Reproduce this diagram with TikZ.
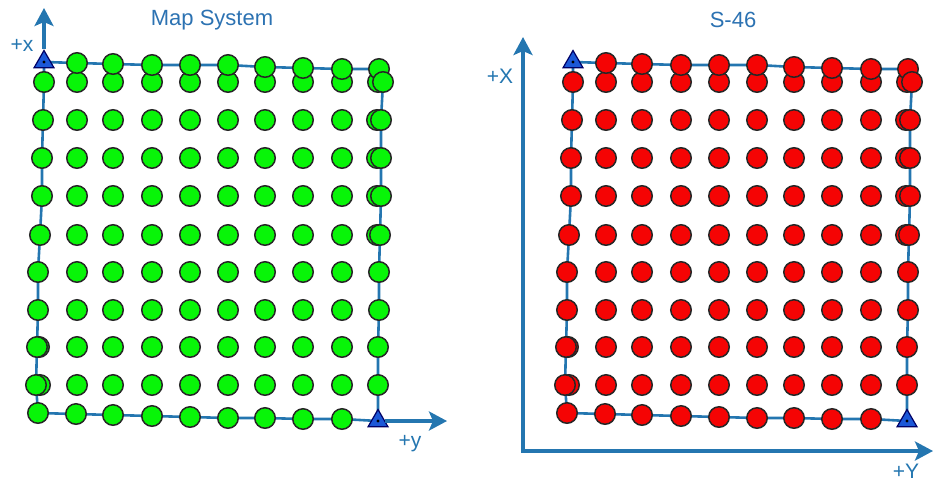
\documentclass[tikz,border=0pt]{standalone}
\usepackage{fontspec}
\setmainfont{Liberation Sans}
\usetikzlibrary{arrows.meta,shapes.geometric}

\definecolor{axisblue}{RGB}{36,118,176}
\definecolor{titleblue}{RGB}{44,114,178}
\definecolor{markblue}{RGB}{28,88,216}
\definecolor{ptgreen}{RGB}{8,245,8}
\definecolor{ptred}{RGB}{245,4,4}

\begin{document}
\begin{tikzpicture}[x=1pt, y=-1pt,
  pt/.style={circle, draw=black!85, line width=1.5pt, minimum size=20.5pt, inner sep=0pt},
  refmark/.style={regular polygon, regular polygon sides=3, draw=black!60!blue,
                  fill=markblue, line width=1.2pt, minimum size=23pt, inner sep=0pt},
  edge/.style={draw=axisblue, line width=2.6pt, line join=round},
  axis/.style={draw=axisblue, line width=3.4pt, line join=round,
               -{Stealth[length=18pt, width=19pt, inset=4pt]}},
  lbl/.style={text=axisblue, font=\fontsize{21}{24}\selectfont, inner sep=0pt},
  title/.style={text=titleblue, font=\fontsize{22}{25}\selectfont, inner sep=0pt},
]
\useasboundingbox (0,0) rectangle (933,483);

% Both grids (left: map system, right: S-46)
\foreach \pan/\fillc/\dx in {L/ptgreen/0, R/ptred/529} {
\begin{scope}[xshift=\dx]
  % Boundary points
  \coordinate (\pan-tl) at (44,62);
  \coordinate (\pan-br) at (378,421);
  \foreach \x/\y [count=\i] in {77/63,113/64,152/65,190/65,228/65,265/67,303/68,342/69,379/69}
    \coordinate (\pan-t\i) at (\x,\y);
  \foreach \x/\y [count=\i] in {383/82,381/120,381/158,381/196,380/235,379/272,379/310,378/347,378/385}
    \coordinate (\pan-r\i) at (\x,\y);
  \foreach \x/\y [count=\i] in {342/419,303/419,265/418,228/418,190/417,152/416,113/415,76/414,38/413}
    \coordinate (\pan-b\i) at (\x,\y);
  \foreach \x/\y [count=\i] in {36/385,37/347,38/310,38/272,40/235,42/196,42/158,43/120,44/82}
    \coordinate (\pan-l\i) at (\x,\y);

  % Outline of the grid
  \draw[edge] (\pan-tl) \foreach \i in {1,...,9} {-- (\pan-t\i)}
    \foreach \i in {1,...,9} {-- (\pan-r\i)} -- (\pan-br)
    \foreach \i in {1,...,9} {-- (\pan-b\i)}
    \foreach \i in {1,...,9} {-- (\pan-l\i)} -- cycle;

  % Slightly shifted duplicates along the sides
  \foreach \x/\y [count=\i] in {378/82,377/120,377/158,377/196,377/235,39/347,40/385}
    \node[pt, fill=\fillc] (\pan-d\i) at (\x,\y) {};

  % Interior points
  \foreach \x [count=\i] in {77,113,152,190,228,265,303,342}
    \foreach \y [count=\j] in {82,120,158,196,235,272,310,347,385}
      \node[pt, fill=\fillc] (\pan-c\i r\j) at (\x,\y) {};

  % Points on the outline
  \foreach \s in {t,r,b,l}
    \foreach \i in {1,...,9}
      \node[pt, fill=\fillc] (\pan-p\s\i) at (\pan-\s\i) {};

  % Reference marks
  \node[refmark] (\pan-tlm) at (\pan-tl) {};
  \node[refmark] (\pan-brm) at (\pan-br) {};
  \fill (\pan-tlm.center) circle (1.7);
  \fill (\pan-brm.center) circle (1.7);
\end{scope}
}

% Axes of the map system
\coordinate (L-xtip) at (44,8);
\coordinate (L-ytip) at (447,421);
\draw[axis] (L-tlm) -- (L-xtip);
\draw[axis] (L-brm) -- (L-ytip);
\node[lbl] (L-xlbl) at (22,45) {+x};
\node[lbl] (L-ylbl) at (410,444) {+y};
\node[title] (L-title) at (212,20) {Map System};

% Axes of S-46
\coordinate (R-xtip) at (523,37);
\coordinate (R-origin) at (523,451);
\coordinate (R-ytip) at (933,451);
\draw[axis] (R-origin) -- (R-xtip);
\draw[axis] (R-origin) -- (R-ytip);
\fill[axisblue] (R-origin) ++(-1.7,-1.7) rectangle ++(3.4,3.4);
\node[lbl] (R-xlbl) at (500,76) {+X};
\node[lbl] (R-ylbl) at (906,471) {+Y};
\node[title] (R-title) at (733,20) {S-46};

\end{tikzpicture}
\end{document}
